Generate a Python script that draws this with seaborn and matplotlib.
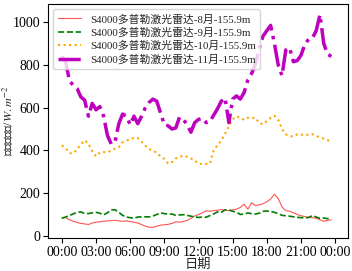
import numpy as np
import pandas as pd
import matplotlib
matplotlib.use("Agg")
import matplotlib.pyplot as plt
import matplotlib.dates as mdates
import seaborn as sns

times = pd.date_range("2020-01-01 00:00", periods=72, freq="20min")

aug = [83, 86, 75, 68, 63, 58, 56, 53, 60, 64, 66, 69, 70, 71, 73, 70, 68, 70, 67, 64,
       60, 53, 45, 40, 40, 45, 50, 52, 54, 58, 66, 64, 67, 72, 82, 93, 100, 108, 117, 115,
       118, 120, 123, 120, 118, 122, 125, 133, 148, 125, 155, 142, 145, 150, 160, 172, 195, 175, 135, 118,
       115, 108, 100, 94, 90, 87, 85, 82, 75, 68, 72, 75]
sep = [83, 88, 95, 103, 110, 112, 105, 104, 108, 110, 106, 98, 108, 122, 122, 110, 96, 88, 85, 83,
       88, 89, 89, 89, 93, 100, 108, 104, 102, 102, 96, 98, 99, 96, 92, 89, 86, 88, 87, 95,
       103, 112, 110, 122, 121, 115, 111, 100, 102, 107, 104, 102, 106, 115, 116, 114, 110, 104, 96, 94,
       92, 89, 87, 85, 84, 86, 95, 88, 82, 84, 80, 84]
oct_ = [423, 410, 387, 386, 405, 428, 447, 432, 395, 372, 390, 392, 390, 400, 408, 415, 438, 447, 450, 460,
        457, 440, 422, 406, 398, 390, 371, 360, 338, 345, 362, 370, 376, 370, 362, 353, 337, 337, 337, 337,
        400, 425, 445, 478, 513, 545, 560, 552, 543, 553, 550, 553, 528, 522, 537, 552, 562, 543, 500, 475,
        467, 465, 475, 472, 476, 472, 476, 468, 460, 455, 448, 440]
nov = [840, 815, 725, 705, 690, 650, 635, 560, 620, 590, 605, 560, 470, 430, 440, 525, 570, 560, 520, 560,
       525, 560, 600, 625, 640, 630, 575, 520, 515, 500, 505, 555, 545, 520, 485, 530, 545, 550, 530, 535,
       565, 595, 630, 645, 530, 640, 655, 640, 670, 730, 760, 805, 880, 935, 960, 985, 900, 800, 750, 870,
       880, 815, 820, 845, 895, 920, 925, 960, 1035, 900, 850, 840]

labels = ["S4000多普勒激光雷达-8月-155.9m", "S4000多普勒激光雷达-9月-155.9m",
          "S4000多普勒激光雷达-10月-155.9m", "S4000多普勒激光雷达-11月-155.9m"]

sns.set_style("ticks")
plt.rcParams["font.family"] = ["Liberation Serif", "Noto Sans CJK SC"]
plt.rcParams["mathtext.fontset"] = "stix"
plt.rcParams["axes.edgecolor"] = "black"
plt.rcParams["xtick.color"] = "black"
plt.rcParams["ytick.color"] = "black"

fig = plt.figure(figsize=(3.52, 2.71), dpi=100)
ax = fig.add_axes([0.136, 0.122, 0.853, 0.863])

sns.lineplot(x=times, y=aug, ax=ax, color="#ff5555", linewidth=0.8, linestyle="-", label=labels[0])
sns.lineplot(x=times, y=sep, ax=ax, color="green", linewidth=1.2, linestyle="--", label=labels[1])
sns.lineplot(x=times, y=oct_, ax=ax, color="orange", linewidth=1.5, linestyle=":", label=labels[2])
sns.lineplot(x=times, y=nov, ax=ax, color="m", linewidth=2.5, linestyle="-.", label=labels[3])

start = times[0]
ax.set_xlim(start - pd.Timedelta(hours=1.23), start + pd.Timedelta(hours=25.14))
ax.xaxis.set_major_locator(mdates.HourLocator(byhour=range(0, 24, 3)))
ax.xaxis.set_major_formatter(mdates.DateFormatter("%H:%M"))
ax.set_yticks([0, 200, 400, 600, 800, 1000])
ax.tick_params(labelsize=10, length=3.5, width=0.8, pad=2)
ax.set_xlabel("日期", fontsize=9.5, labelpad=0)
ax.set_ylabel("风功率密度/$W.m^{-2}$", fontsize=8.8)
ax.yaxis.set_label_coords(-0.11, 0.5)
ax.legend(loc="upper left", fontsize=7.8, labelspacing=0.28, handlelength=2.2, frameon=True)

fig.savefig("out.png", dpi=100)
